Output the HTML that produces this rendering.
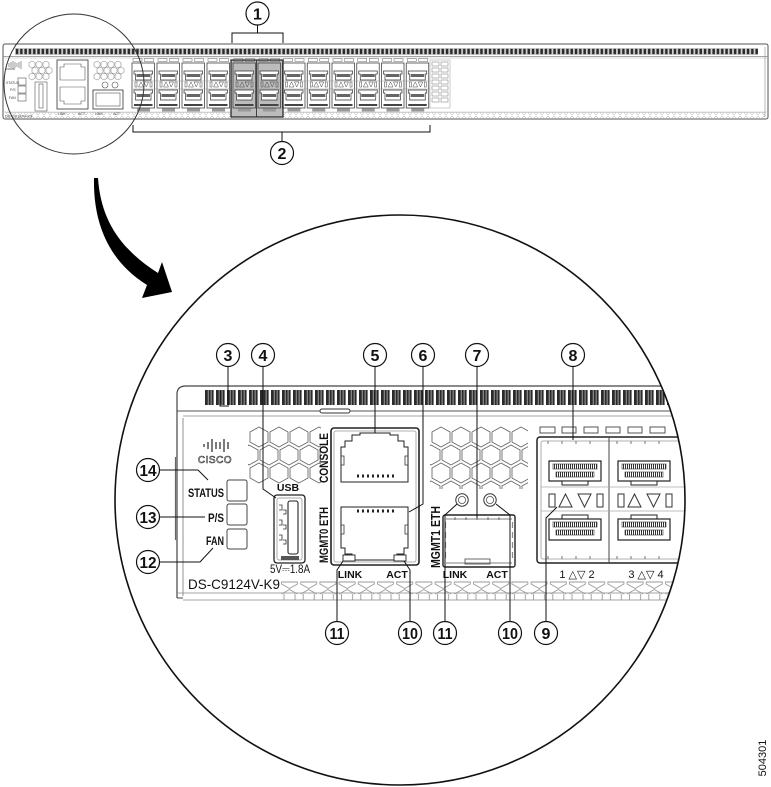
<!DOCTYPE html>
<html><head><meta charset="utf-8"><style>
html,body{margin:0;padding:0;background:#fff;}
svg{display:block;font-family:"Liberation Sans",sans-serif;}
</style></head><body>
<svg width="771" height="787" viewBox="0 0 771 787" xmlns="http://www.w3.org/2000/svg">
<defs>
<clipPath id="bc"><circle cx="400" cy="500" r="285"/></clipPath>
<clipPath id="hl"><rect x="248" y="426" width="73" height="60"/></clipPath>
<clipPath id="hm"><rect x="430" y="426" width="98" height="63"/></clipPath>
<pattern id="sv" x="15" y="48" width="4.3" height="7" patternUnits="userSpaceOnUse"><rect width="4.3" height="7" fill="#d0d0d0"/><rect x="0.8" y="0.8" width="2.5" height="5.4" fill="#2a2a2a"/></pattern>
<pattern id="dv" x="205" y="390" width="11" height="15" patternUnits="userSpaceOnUse"><rect width="11" height="15" fill="#fff"/><rect x="0" y="0" width="8.6" height="15" fill="#2b2b2b"/><rect x="2.8" y="0" width="0.8" height="15" fill="#bbb"/><rect x="5.7" y="0" width="0.8" height="15" fill="#bbb"/></pattern>
<pattern id="pins" width="2" height="6" patternUnits="userSpaceOnUse"><rect width="2" height="6" fill="#fff"/><rect width="1" height="6" fill="#333"/></pattern>
<pattern id="trap" x="280" y="581" width="19.2" height="20" patternUnits="userSpaceOnUse"><path d="M1.5,1 H17.5 V3 L9.5,7.5 L1.5,3 Z M1.5,13 L9.5,8.5 L17.5,13 M4,13 V19 M15,13 V19" fill="none" stroke="#999" stroke-width="0.9"/></pattern>
<pattern id="strap" x="5" y="112" width="6" height="7" patternUnits="userSpaceOnUse"><path d="M0.5,0.5 H5.5 L3,3 Z M1,6 L3,4 L5,6" fill="none" stroke="#aaa" stroke-width="0.5"/></pattern>
<polygon id="hx" points="9,0 18,5 18,15 9,20 0,15 0,5" fill="none" stroke="#6a6a6a" stroke-width="0.9"/>
<polygon id="shx" points="3,0 6,1.7 6,5.3 3,7 0,5.3 0,1.7" fill="none" stroke="#777" stroke-width="0.5"/>
<g id="col">
  <rect x="2" y="58.5" width="9" height="3" fill="none" stroke="#666" stroke-width="0.5"/>
  <rect x="13.5" y="58.5" width="9" height="3" fill="none" stroke="#666" stroke-width="0.5"/>
  <rect x="1" y="63" width="22.5" height="45" fill="none" stroke="#444" stroke-width="0.8"/>
  <path d="M3,71 H21.5 V74 H20 V80 H4.5 V74 H3 Z" fill="#fff" stroke="#333" stroke-width="0.7"/>
  <rect x="5.5" y="74" width="13.5" height="3" fill="#666"/>
  <rect x="4" y="82" width="2" height="5" fill="none" stroke="#444" stroke-width="0.5"/>
  <polygon points="7.5,87 10,82 12.5,87" fill="none" stroke="#444" stroke-width="0.5"/>
  <polygon points="13,82 17.5,82 15.2,87" fill="none" stroke="#444" stroke-width="0.5"/>
  <rect x="19" y="82" width="2" height="5" fill="none" stroke="#444" stroke-width="0.5"/>
  <path d="M3,90 H21.5 V93 H20 V100 H4.5 V93 H3 Z" fill="#fff" stroke="#333" stroke-width="0.7"/>
  <rect x="5.5" y="94" width="13.5" height="3" fill="#666"/>
  <rect x="3" y="104" width="18.5" height="2" fill="#444"/>
  <rect x="6" y="108.5" width="13" height="3" fill="#999"/>
</g>
<g id="qport">
  <rect x="549" y="461" width="52" height="20" fill="#fff" stroke="#222" stroke-width="1.2"/>
  <rect x="553" y="464" width="44" height="5" fill="url(#pins)" stroke="#333" stroke-width="0.6"/>
  <rect x="556" y="472" width="38" height="5" fill="url(#pins)" stroke="#333" stroke-width="0.6"/>
  <rect x="562" y="481" width="26" height="4" fill="#fff" stroke="#222" stroke-width="1"/>
  <rect x="549" y="494" width="6" height="13" fill="none" stroke="#333" stroke-width="1"/>
  <polygon points="559,507 565.5,494 572,507" fill="none" stroke="#333" stroke-width="1"/>
  <polygon points="578,494 591,494 584.5,507" fill="none" stroke="#333" stroke-width="1"/>
  <rect x="597" y="494" width="6" height="13" fill="none" stroke="#333" stroke-width="1"/>
  <rect x="562" y="515" width="26" height="4" fill="#fff" stroke="#222" stroke-width="1"/>
  <rect x="549" y="519" width="52" height="21" fill="#fff" stroke="#222" stroke-width="1.2"/>
  <rect x="553" y="522" width="44" height="5" fill="url(#pins)" stroke="#333" stroke-width="0.6"/>
  <rect x="556" y="530" width="38" height="5" fill="url(#pins)" stroke="#333" stroke-width="0.6"/>
</g>
</defs>

<!-- ===== Top small chassis ===== -->
<rect x="3" y="44" width="765" height="75" rx="2" fill="#fff" stroke="#555" stroke-width="1"/>
<rect x="15" y="48" width="743" height="7" fill="url(#sv)"/>
<line x1="3" y1="56.5" x2="768" y2="56.5" stroke="#888" stroke-width="0.7"/>
<line x1="3" y1="58" x2="768" y2="58" stroke="#bbb" stroke-width="0.5"/>
<rect x="5" y="112" width="760" height="7" fill="url(#strap)"/>
<line x1="3" y1="112" x2="768" y2="112" stroke="#bbb" stroke-width="0.5"/>
<line x1="765" y1="47" x2="765" y2="117" stroke="#888" stroke-width="0.6"/>

<!-- small left side panel -->
<g stroke="#555" stroke-width="0.6" fill="none">
  <path d="M9,63 V67 M11,62 V68 M13,61 V69 M15,62 V68 M17,63 V67 M19,62 V68 M21,61 V69"/>
  <rect x="18" y="78" width="8" height="7"/><rect x="18" y="86" width="8" height="7"/><rect x="18" y="94" width="8" height="7"/>
  <rect x="35" y="82" width="12" height="29"/><rect x="39" y="84" width="4" height="24"/>
  <rect x="57" y="60" width="31" height="49" stroke="#333" stroke-width="0.8"/>
  <path d="M60,80 V67 H64 V64 H81 V67 H85 V80 Z"/>
  <path d="M60,87 H85 V101 H81 V104 H64 V101 H60 Z"/>
  <rect x="93" y="90" width="30" height="19" stroke="#333" stroke-width="0.8"/>
  <rect x="96" y="93" width="24" height="13"/>
  <circle cx="105" cy="85" r="3"/><circle cx="115" cy="85" r="3"/>
  <rect x="430" y="60" width="20" height="48" stroke="#aaa"/>
</g>
<text x="6" y="70" font-size="4" fill="#555">cisco</text>
<text x="6" y="84" font-size="3.5" fill="#444">STATUS</text>
<text x="10" y="91" font-size="3.5" fill="#444">P/S</text>
<text x="9" y="99" font-size="3.5" fill="#444">FAN</text>
<text x="5" y="117.5" font-size="4" fill="#333">DS-C9124V-K9</text>
<text x="58" y="115" font-size="3.5" fill="#444">LINK</text>
<text x="78" y="115" font-size="3.5" fill="#444">ACT</text>
<text x="95" y="115" font-size="3.5" fill="#444">LINK</text>
<text x="113" y="115" font-size="3.5" fill="#444">ACT</text>
<g>
  <use href="#shx" x="29" y="61"/><use href="#shx" x="36" y="61"/><use href="#shx" x="43" y="61"/>
  <use href="#shx" x="32" y="67"/><use href="#shx" x="39" y="67"/><use href="#shx" x="46" y="67"/>
  <use href="#shx" x="29" y="73"/><use href="#shx" x="36" y="73"/><use href="#shx" x="43" y="73"/>
  <use href="#shx" x="94" y="61"/><use href="#shx" x="101" y="61"/><use href="#shx" x="108" y="61"/><use href="#shx" x="115" y="61"/>
  <use href="#shx" x="97" y="67"/><use href="#shx" x="104" y="67"/><use href="#shx" x="111" y="67"/><use href="#shx" x="118" y="67"/>
  <use href="#shx" x="94" y="73"/><use href="#shx" x="101" y="73"/><use href="#shx" x="108" y="73"/><use href="#shx" x="115" y="73"/>
</g>
<g fill="none" stroke="#777" stroke-width="0.5">
  <rect x="432" y="62" width="7" height="4"/><rect x="441" y="62" width="7" height="4"/>
  <rect x="432" y="68" width="7" height="4"/><rect x="441" y="68" width="7" height="4"/>
  <rect x="432" y="74" width="7" height="4"/><rect x="441" y="74" width="7" height="4"/>
  <rect x="432" y="80" width="7" height="4"/><rect x="441" y="80" width="7" height="4"/>
  <rect x="432" y="86" width="7" height="4"/><rect x="441" y="86" width="7" height="4"/>
  <rect x="432" y="92" width="7" height="4"/><rect x="441" y="92" width="7" height="4"/>
  <rect x="432" y="98" width="7" height="4"/><rect x="441" y="98" width="7" height="4"/>
</g>

<!-- highlighted group background -->
<rect x="231" y="60" width="52" height="57" fill="#bcbcbc"/>
<!-- port columns -->
<use href="#col" x="131"/><use href="#col" x="156"/><use href="#col" x="181"/><use href="#col" x="206"/>
<use href="#col" x="232"/><use href="#col" x="257"/><use href="#col" x="281.5"/><use href="#col" x="306.25"/>
<use href="#col" x="331"/><use href="#col" x="355.75"/><use href="#col" x="380.5"/><use href="#col" x="405.25"/>
<line x1="133" y1="81" x2="430" y2="81" stroke="#999" stroke-width="0.5"/>
<line x1="133" y1="89" x2="430" y2="89" stroke="#999" stroke-width="0.5"/>
<rect x="231" y="60" width="52" height="57" fill="none" stroke="#222" stroke-width="1.2"/>
<line x1="256.5" y1="60" x2="256.5" y2="117" stroke="#222" stroke-width="0.8"/>

<!-- small magnifier circle -->
<circle cx="74" cy="84" r="70" fill="none" stroke="#333" stroke-width="1"/>

<!-- callouts 1 & 2 -->
<path d="M232,43 V33 H283 V43 M257.5,25 V33" fill="none" stroke="#111" stroke-width="1"/>
<path d="M133,125 V132 H430 V125 M282,132 V142" fill="none" stroke="#111" stroke-width="1"/>

<!-- big arrow -->
<path d="M94,178 C93,225 110,262 147,285 L142,298 L172,292 L162,262 L158,273 C122,250 101,222 98,178 Z" fill="#000"/>

<!-- ===== Detail view (clipped) ===== -->
<g clip-path="url(#bc)">
  <path d="M177,598 V394 Q177,386 186,386 H720" fill="none" stroke="#444" stroke-width="1.2"/>
  <line x1="183" y1="418" x2="183" y2="596" stroke="#777" stroke-width="0.8"/>
  <line x1="175.5" y1="457" x2="175.5" y2="540" stroke="#666" stroke-width="1.2"/>
  <rect x="205" y="390" width="520" height="15" fill="url(#dv)"/>
  <line x1="177" y1="411" x2="720" y2="411" stroke="#555" stroke-width="1"/>
  <line x1="183" y1="416" x2="720" y2="416" stroke="#888" stroke-width="0.8"/>
  <rect x="320" y="409" width="30" height="4" rx="2" fill="#fff" stroke="#333" stroke-width="1"/>
  <rect x="280" y="581" width="440" height="20" fill="url(#trap)"/>
  <line x1="177" y1="593" x2="720" y2="593" stroke="#888" stroke-width="0.8"/>
  <line x1="183" y1="600" x2="720" y2="600" stroke="#888" stroke-width="0.8"/>
  <path d="M177,598 H183" stroke="#444" stroke-width="1"/>

  <!-- cisco logo -->
  <path d="M204,444 V447 M208,442 V449 M212,439 V452 M216,442 V449 M220,442 V449 M224,439 V452 M228,442 V449" stroke="#444" stroke-width="1.4"/>
  <text x="215" y="463" font-size="10" text-anchor="middle" fill="#fff" stroke="#333" stroke-width="0.6" letter-spacing="0.5">CISCO</text>

  <!-- status labels & LED boxes -->
  <text x="224" y="497" font-size="11.5" font-weight="bold" fill="#111" text-anchor="end" textLength="36" lengthAdjust="spacingAndGlyphs">STATUS</text>
  <text x="224" y="522" font-size="11.5" font-weight="bold" fill="#111" text-anchor="end" textLength="16" lengthAdjust="spacingAndGlyphs">P/S</text>
  <text x="224" y="545" font-size="11.5" font-weight="bold" fill="#111" text-anchor="end" textLength="18" lengthAdjust="spacingAndGlyphs">FAN</text>
  <g fill="none" stroke="#444" stroke-width="1">
    <rect x="227" y="480" width="20" height="21" rx="2"/>
    <rect x="227" y="504" width="20" height="21" rx="2"/>
    <rect x="227" y="529" width="20" height="20" rx="2"/>
  </g>
  <text x="188" y="589" font-size="14" fill="#111" textLength="92" lengthAdjust="spacingAndGlyphs">DS-C9124V-K9</text>

  <!-- hex blocks -->
  <g clip-path="url(#hl)">
    <use href="#hx" x="250" y="427"/><use href="#hx" x="270" y="427"/><use href="#hx" x="290" y="427"/><use href="#hx" x="310" y="427"/>
    <use href="#hx" x="240" y="445"/><use href="#hx" x="260" y="445"/><use href="#hx" x="280" y="445"/><use href="#hx" x="300" y="445"/><use href="#hx" x="320" y="445"/>
    <use href="#hx" x="250" y="463"/><use href="#hx" x="270" y="463"/><use href="#hx" x="290" y="463"/><use href="#hx" x="310" y="463"/>
  </g>
  <g clip-path="url(#hm)">
    <use href="#hx" x="432" y="427"/><use href="#hx" x="452" y="427"/><use href="#hx" x="472" y="427"/><use href="#hx" x="492" y="427"/><use href="#hx" x="512" y="427"/>
    <use href="#hx" x="422" y="445"/><use href="#hx" x="442" y="445"/><use href="#hx" x="462" y="445"/><use href="#hx" x="482" y="445"/><use href="#hx" x="502" y="445"/><use href="#hx" x="522" y="445"/>
    <use href="#hx" x="432" y="463"/><use href="#hx" x="452" y="463"/><use href="#hx" x="472" y="463"/><use href="#hx" x="492" y="463"/><use href="#hx" x="512" y="463"/>
    <use href="#hx" x="422" y="481"/><use href="#hx" x="442" y="481"/><use href="#hx" x="462" y="481"/><use href="#hx" x="482" y="481"/><use href="#hx" x="502" y="481"/><use href="#hx" x="522" y="481"/>
  </g>

  <!-- USB -->
  <text x="288" y="491" font-size="10.5" font-weight="bold" fill="#111" text-anchor="middle">USB</text>
  <rect x="274" y="495" width="31" height="68" rx="3" fill="#fff" stroke="#222" stroke-width="1.3"/>
  <rect x="277" y="498" width="25" height="62" rx="2" fill="none" stroke="#888" stroke-width="0.7"/>
  <rect x="288" y="501" width="10" height="53" rx="2" fill="#fff" stroke="#222" stroke-width="1.1"/>
  <path d="M279,505 h3 v5 h-3 M279,520 h3 v5 h-3 M279,535 h3 v5 h-3 M283,510 h3 v4 h-3 M283,525 h3 v4 h-3 M283,540 h3 v4 h-3" fill="none" stroke="#333" stroke-width="0.8"/>
  <rect x="281" y="556" width="18" height="4" fill="#555"/>
  <text x="290" y="573" font-size="11.5" fill="#111" text-anchor="middle" textLength="40" lengthAdjust="spacingAndGlyphs">5V⎓1.8A</text>

  <!-- rotated labels -->
  <text transform="translate(328,458) rotate(-90)" font-size="12" font-weight="bold" fill="#111" text-anchor="middle" textLength="50" lengthAdjust="spacingAndGlyphs">CONSOLE</text>
  <text transform="translate(328,535) rotate(-90)" font-size="12" font-weight="bold" fill="#111" text-anchor="middle" textLength="56" lengthAdjust="spacingAndGlyphs">MGMT0 ETH</text>

  <!-- RJ45 block -->
  <rect x="331" y="428" width="88" height="137" rx="3" fill="#fff" stroke="#222" stroke-width="1.6"/>
  <rect x="334" y="431" width="82" height="131" rx="2" fill="none" stroke="#999" stroke-width="0.8"/>
  <path d="M341,482 V447 H345 V441 H352 V435 H360 V433 H390 V435 H398 V441 H404 V447 H408 V482 Z" fill="none" stroke="#222" stroke-width="1"/>
  <path d="M341,456 h3 v9 h-3 M408,456 h-3 v9 h3" fill="none" stroke="#333" stroke-width="0.8"/>
  <path d="M357,476 h2 M362,476 h2 M367,476 h2 M372,476 h2 M377,476 h2 M382,476 h2 M387,476 h2 M392,476 h2" stroke="#222" stroke-width="3"/>
  <path d="M341,507 H408 V548 H404 V554 H397 V560 H352 V554 H345 V548 H341 Z" fill="none" stroke="#222" stroke-width="1"/>
  <path d="M341,525 h3 v9 h-3 M408,525 h-3 v9 h3" fill="none" stroke="#333" stroke-width="0.8"/>
  <path d="M357,511 h2 M362,511 h2 M367,511 h2 M372,511 h2 M377,511 h2 M382,511 h2 M387,511 h2 M392,511 h2" stroke="#222" stroke-width="3"/>
  <rect x="343" y="555" width="12" height="6" fill="#fff" stroke="#222" stroke-width="0.9"/>
  <rect x="394" y="555" width="12" height="6" fill="#fff" stroke="#222" stroke-width="0.9"/>
  <text x="350" y="578" font-size="10.5" font-weight="bold" fill="#111" text-anchor="middle">LINK</text>
  <text x="397" y="578" font-size="10.5" font-weight="bold" fill="#111" text-anchor="middle">ACT</text>

  <!-- MGMT1 SFP -->
  <text transform="translate(440,537) rotate(-90)" font-size="12.5" font-weight="bold" fill="#111" text-anchor="middle" textLength="62" lengthAdjust="spacingAndGlyphs">MGMT1 ETH</text>
  <circle cx="462" cy="500" r="6.2" fill="#fff" stroke="#333" stroke-width="1"/>
  <circle cx="462" cy="500" r="3.6" fill="none" stroke="#555" stroke-width="0.8"/>
  <circle cx="490" cy="500" r="6.2" fill="#fff" stroke="#333" stroke-width="1"/>
  <circle cx="490" cy="500" r="3.6" fill="none" stroke="#555" stroke-width="0.8"/>
  <rect x="443" y="515" width="72" height="52" rx="2" fill="#fff" stroke="#222" stroke-width="1.4"/>
  <line x1="446" y1="519" x2="512" y2="519" stroke="#555" stroke-width="0.8"/>
  <path d="M455,517 v3 M466,517 v3 M477,517 v3 M488,517 v3 M499,517 v3" stroke="#555" stroke-width="0.8"/>
  <path d="M445.5,522 v6 M445.5,532 v6 M445.5,542 v6 M445.5,552 v6 M512.5,522 v6 M512.5,532 v6 M512.5,542 v6 M512.5,552 v6" stroke="#888" stroke-width="1.2"/>
  <rect x="465" y="559" width="25" height="5" fill="#fff" stroke="#444" stroke-width="0.8"/>
  <line x1="446" y1="563" x2="512" y2="563" stroke="#555" stroke-width="0.8"/>
  <text x="455" y="578" font-size="10.5" font-weight="bold" fill="#111" text-anchor="middle">LINK</text>
  <text x="497" y="578" font-size="10.5" font-weight="bold" fill="#111" text-anchor="middle">ACT</text>

  <!-- QSFP area -->
  <g fill="none" stroke="#444" stroke-width="0.9">
    <rect x="540" y="427" width="15" height="6"/><rect x="562" y="427" width="14" height="6"/>
    <rect x="584" y="427" width="14" height="6"/><rect x="606" y="427" width="14" height="6"/>
    <rect x="628" y="427" width="14" height="6"/><rect x="650" y="427" width="15" height="6"/>
  </g>
  <rect x="537" y="437" width="180" height="126" rx="3" fill="#fff" stroke="#222" stroke-width="1.5"/>
  <rect x="541" y="441" width="172" height="118" rx="2" fill="none" stroke="#999" stroke-width="0.8"/>
  <line x1="609" y1="437" x2="609" y2="563" stroke="#444" stroke-width="1"/>
  <line x1="541" y1="487" x2="713" y2="487" stroke="#aaa" stroke-width="0.8"/>
  <line x1="541" y1="511" x2="713" y2="511" stroke="#aaa" stroke-width="0.8"/>
  <path d="M548,441 v3 M562,441 v3 M576,441 v3 M590,441 v3 M617,441 v3 M631,441 v3 M645,441 v3 M659,441 v3 M548,556 v3 M562,556 v3 M576,556 v3 M590,556 v3 M617,556 v3 M631,556 v3 M645,556 v3 M659,556 v3" stroke="#555" stroke-width="0.8"/>
  <use href="#qport"/>
  <use href="#qport" x="69"/>
  <text x="577" y="578" font-size="11" fill="#111" text-anchor="middle">1 △▽ 2</text>
  <text x="646" y="578" font-size="11" fill="#111" text-anchor="middle">3 △▽ 4</text>
</g>

<!-- big circle -->
<circle cx="400" cy="500" r="285" fill="none" stroke="#111" stroke-width="1.6"/>

<!-- leader lines -->
<g fill="none" stroke="#111" stroke-width="1">
  <path d="M228,367 V405 M220,391 V406 H229"/>
  <path d="M263,367 V489 L276,498"/>
  <path d="M375,367 V433"/>
  <path d="M423,367 V504 L409,512"/>
  <path d="M477,367 V518"/>
  <path d="M573,367 V440"/>
  <path d="M546,621 V518 L557,507"/>
  <path d="M410,621 V570 L404,561"/>
  <path d="M337,621 V570 L343,561"/>
  <path d="M445,621 V515 L457,504"/>
  <path d="M510,621 V515 L496,504"/>
  <path d="M160,562 H200 L213,548"/>
  <path d="M160,517 H205"/>
  <path d="M160,470 H198 L208,480"/>
</g>

<!-- callout circles -->
<g fill="#fff" stroke="#111" stroke-width="1.2">
  <circle cx="257.5" cy="13.5" r="11.5"/>
  <circle cx="282" cy="153" r="11.5"/>
  <circle cx="228" cy="355" r="11.5"/>
  <circle cx="263" cy="355" r="11.5"/>
  <circle cx="375" cy="355" r="11.5"/>
  <circle cx="423" cy="355" r="11.5"/>
  <circle cx="477" cy="355" r="11.5"/>
  <circle cx="573" cy="355" r="11.5"/>
  <circle cx="337" cy="633" r="11.5"/>
  <circle cx="410" cy="633" r="11.5"/>
  <circle cx="445" cy="633" r="11.5"/>
  <circle cx="510" cy="633" r="11.5"/>
  <circle cx="546" cy="633" r="11.5"/>
  <circle cx="148" cy="470" r="11.5"/>
  <circle cx="148" cy="517" r="11.5"/>
  <circle cx="148" cy="562" r="11.5"/>
</g>
<g font-size="16" font-weight="bold" fill="#111" text-anchor="middle">
  <text x="257.5" y="19.5">1</text>
  <text x="282" y="159">2</text>
  <text x="228" y="361">3</text>
  <text x="263" y="361">4</text>
  <text x="375" y="361">5</text>
  <text x="423" y="361">6</text>
  <text x="477" y="361">7</text>
  <text x="573" y="361">8</text>
  <text x="546" y="639">9</text>
  <text x="337" y="639" textLength="15" lengthAdjust="spacingAndGlyphs">11</text>
  <text x="410" y="639" textLength="16" lengthAdjust="spacingAndGlyphs">10</text>
  <text x="445" y="639" textLength="15" lengthAdjust="spacingAndGlyphs">11</text>
  <text x="510" y="639" textLength="16" lengthAdjust="spacingAndGlyphs">10</text>
  <text x="148" y="476" textLength="17" lengthAdjust="spacingAndGlyphs">14</text>
  <text x="148" y="523" textLength="17" lengthAdjust="spacingAndGlyphs">13</text>
  <text x="148" y="568" textLength="17" lengthAdjust="spacingAndGlyphs">12</text>
</g>

<text transform="translate(766,758) rotate(-90)" font-size="11" fill="#111" text-anchor="middle">504301</text>
</svg>
</body></html>
